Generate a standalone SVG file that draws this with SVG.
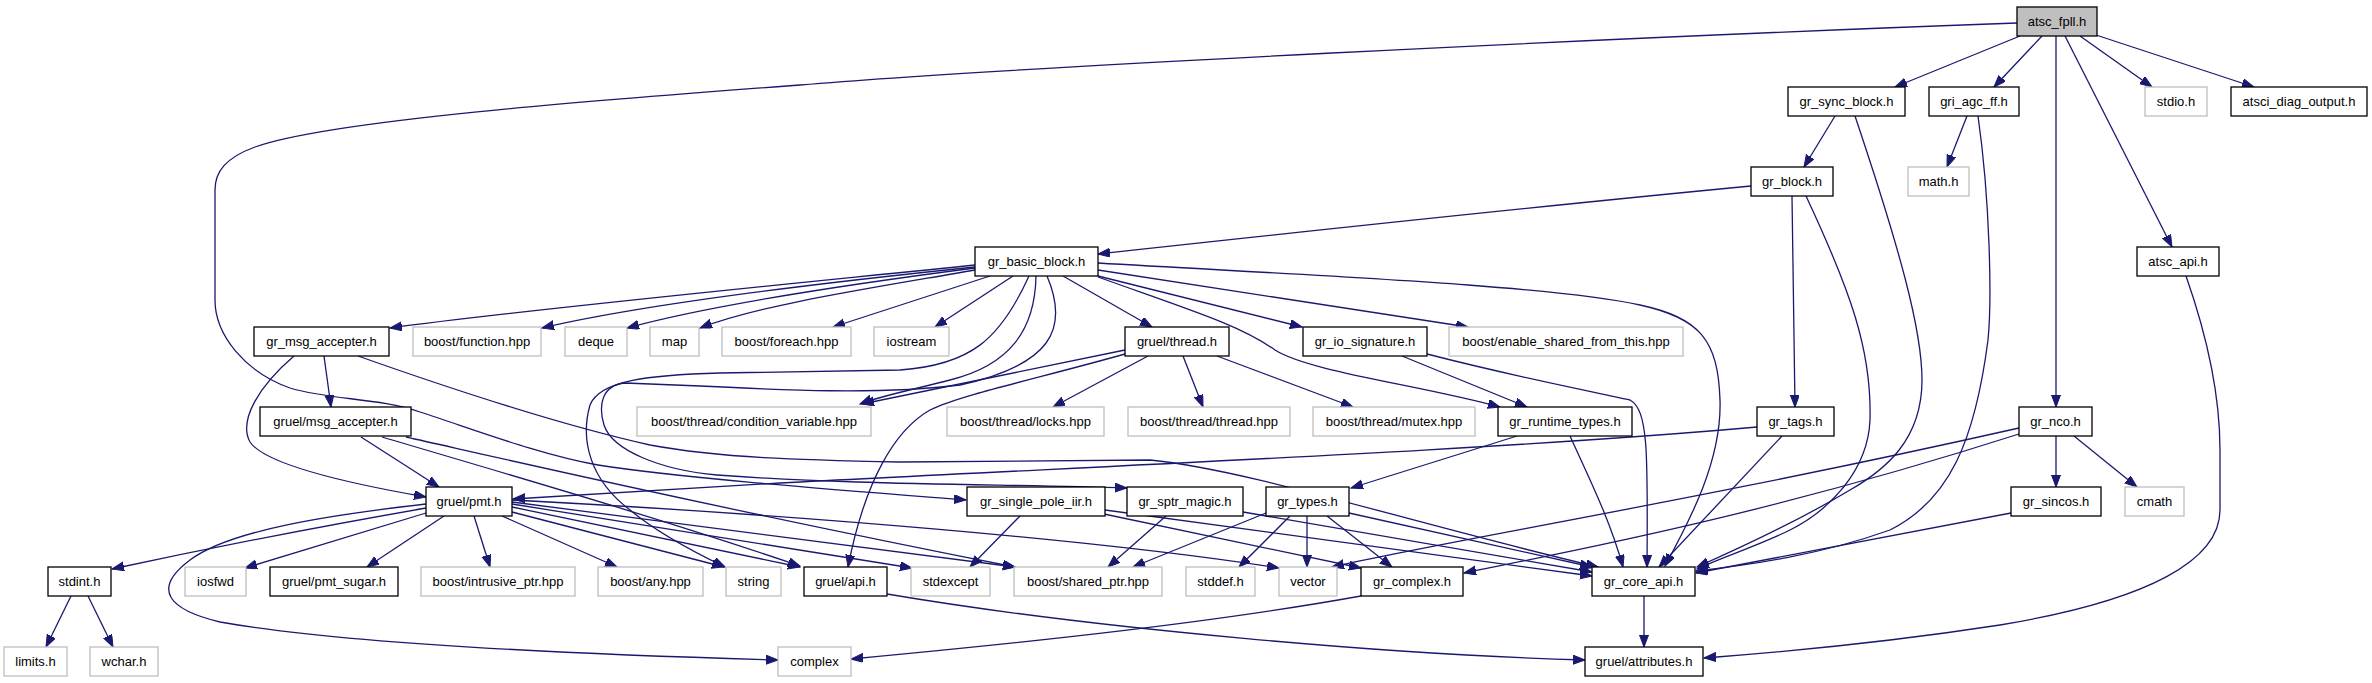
<svg xmlns="http://www.w3.org/2000/svg" width="2372" height="683" viewBox="0 0 2372 683">
<style>
.n rect{fill:#fff;stroke:#000;stroke-width:1.3}
.n.x rect{stroke:#bfbfbf}
.n.r rect{fill:#bfbfbf}
.n text{font-family:"Liberation Sans",Arial,sans-serif;font-size:13px;text-anchor:middle;fill:#000}
#edges path{fill:none;stroke:#191970;stroke-width:1.3;marker-end:url(#a)}
</style>
<defs>
<marker id="a" markerUnits="userSpaceOnUse" markerWidth="14" markerHeight="10" refX="12" refY="4.5" orient="auto" viewBox="0 0 14 10">
<path d="M0,0 L12,4.5 L0,9 z" fill="#191970" stroke="#191970" stroke-width="1"/>
</marker>
</defs>
<rect width="2372" height="683" fill="#fff"/>
<g id="edges">
<path d="M2020,36 L1895,87"/>
<path d="M2042,36 L1994,87"/>
<path d="M2056,36 L2056,407"/>
<path d="M2065,36 L2172,247"/>
<path d="M2080,36 L2152,87"/>
<path d="M2096,35 L2254,87"/>
<path d="M2017,23 C1600,38 1000,68 800,85 C600,100 330,120 255,147 C225,158 215,172 215,190 L215,300 C215,335 245,372 290,388 C330,400 380,398 420,412 C470,428 540,455 598,465 C680,478 840,490 966,500"/>
<path d="M1835,116 L1804,167"/>
<path d="M1855,116 C1900,250 1922,330 1922,380 C1922,440 1885,470 1850,490 C1800,520 1740,548 1697,567"/>
<path d="M1967,116 L1947,167"/>
<path d="M1978,116 C1990,200 1992,300 1988,340 C1975,440 1950,500 1890,530 C1820,555 1750,565 1696,571"/>
<path d="M1751,186 C1500,210 1300,232 1098,254"/>
<path d="M1792,196 L1795,407"/>
<path d="M1806,196 C1850,290 1872,350 1870,420 C1868,470 1830,510 1790,530 C1760,545 1720,558 1697,569"/>
<path d="M975,265 C800,283 520,310 390,328"/>
<path d="M975,267 C800,285 640,305 542,328"/>
<path d="M975,268 C820,288 700,308 627,328"/>
<path d="M975,270 C860,290 760,305 700,328"/>
<path d="M990,276 L833,327"/>
<path d="M1013,276 L935,327"/>
<path d="M1063,276 L1152,327"/>
<path d="M1098,276 L1302,327"/>
<path d="M1098,270 L1468,327"/>
<path d="M1098,277 C1190,310 1240,325 1275,350 C1310,372 1420,385 1500,407"/>
<path d="M1098,263 C1300,275 1550,285 1640,305 C1700,318 1718,340 1720,400 C1722,460 1690,520 1665,566"/>
<path d="M1036,276 C1035,330 1010,365 950,380 C920,388 880,396 860,404"/>
<path d="M1029,276 C1000,340 970,365 900,370 L720,373 C650,375 600,380 590,405 C580,440 590,480 630,510 C660,535 700,555 725,567"/>
<path d="M1047,276 C1070,330 1050,365 960,385 C880,395 780,390 700,386 L625,383 C602,385 598,405 604,425 C612,450 660,470 717,475 C850,485 1000,484 1127,488"/>
<path d="M1125,350 L862,404"/>
<path d="M1148,356 L1053,407"/>
<path d="M1183,356 L1203,407"/>
<path d="M1217,356 L1353,407"/>
<path d="M1125,354 C1040,378 960,395 930,410 C895,430 865,480 848,567"/>
<path d="M1402,356 L1527,407"/>
<path d="M1427,354 C1520,378 1600,393 1630,400 C1648,410 1648,450 1647,567"/>
<path d="M1517,436 L1351,488"/>
<path d="M1570,436 C1590,480 1610,520 1623,567"/>
<path d="M1757,427 C1500,450 1100,466 780,483 L513,499"/>
<path d="M1782,436 L1659,567"/>
<path d="M2056,436 L2056,487"/>
<path d="M2074,436 L2137,487"/>
<path d="M2019,428 C1700,500 1450,540 1332,567"/>
<path d="M2019,434 C1750,520 1550,555 1464,573"/>
<path d="M2011,513 L1696,573"/>
<path d="M2186,276 C2205,330 2220,390 2220,450 L2220,510 C2220,560 2150,600 2000,625 C1850,648 1740,655 1704,658"/>
<path d="M1644,596 L1644,647"/>
<path d="M887,594 C1100,630 1400,655 1585,660"/>
<path d="M1361,596 C1200,625 1000,645 851,659"/>
<path d="M1266,513 L1133,567"/>
<path d="M1290,516 L1239,567"/>
<path d="M1307,516 L1307,567"/>
<path d="M1327,516 L1392,567"/>
<path d="M1349,513 L1592,567"/>
<path d="M1166,516 L1108,567"/>
<path d="M1243,512 L1592,572"/>
<path d="M1020,516 L970,567"/>
<path d="M1104,514 L1361,568"/>
<path d="M1105,510 L1592,576"/>
<path d="M426,508 C300,530 200,550 112,569"/>
<path d="M426,513 L245,568"/>
<path d="M444,516 L367,567"/>
<path d="M474,516 L490,567"/>
<path d="M502,516 L617,567"/>
<path d="M512,512 L724,567"/>
<path d="M512,507 L800,567"/>
<path d="M512,504 L912,568"/>
<path d="M512,502 L1015,567"/>
<path d="M512,500 C800,515 1100,540 1279,568"/>
<path d="M426,504 C330,515 230,530 190,560 C150,590 170,610 220,622 C350,645 600,655 778,660"/>
<path d="M361,437 L439,487"/>
<path d="M382,437 C500,472 650,515 800,566"/>
<path d="M406,437 C500,458 700,505 1015,567"/>
<path d="M294,356 C260,385 238,420 250,442 C265,464 340,482 426,497"/>
<path d="M324,356 L331,407"/>
<path d="M358,356 C440,385 560,425 650,445 C720,458 800,460 900,462 L1150,460 C1250,470 1400,520 1598,567"/>
<path d="M71,596 L46,647"/>
<path d="M88,596 L113,647"/>
</g>
<g id="n_atsc_fpll" class="n r"><rect x="2017" y="7" width="80" height="29"/><text x="2057" y="26">atsc_fpll.h</text></g>
<g id="n_gr_sync_block" class="n"><rect x="1788" y="87" width="117" height="29"/><text x="1846.5" y="106">gr_sync_block.h</text></g>
<g id="n_gri_agc_ff" class="n"><rect x="1929" y="87" width="90" height="29"/><text x="1974" y="106">gri_agc_ff.h</text></g>
<g id="n_stdio" class="n x"><rect x="2145" y="87" width="62" height="29"/><text x="2176" y="106">stdio.h</text></g>
<g id="n_atsci_diag_output" class="n"><rect x="2231" y="87" width="136" height="29"/><text x="2299" y="106">atsci_diag_output.h</text></g>
<g id="n_gr_block" class="n"><rect x="1751" y="167" width="82" height="29"/><text x="1792" y="186">gr_block.h</text></g>
<g id="n_math" class="n x"><rect x="1908" y="167" width="61" height="29"/><text x="1938.5" y="186">math.h</text></g>
<g id="n_gr_basic_block" class="n"><rect x="975" y="247" width="123" height="29"/><text x="1036.5" y="266">gr_basic_block.h</text></g>
<g id="n_atsc_api" class="n"><rect x="2137" y="247" width="82" height="29"/><text x="2178" y="266">atsc_api.h</text></g>
<g id="n_gr_msg_accepter" class="n"><rect x="254" y="327" width="135" height="29"/><text x="321.5" y="346">gr_msg_accepter.h</text></g>
<g id="n_boost_function" class="n x"><rect x="413" y="327" width="128" height="29"/><text x="477" y="346">boost/function.hpp</text></g>
<g id="n_deque" class="n x"><rect x="565" y="327" width="62" height="29"/><text x="596" y="346">deque</text></g>
<g id="n_map" class="n x"><rect x="650" y="327" width="49" height="29"/><text x="674.5" y="346">map</text></g>
<g id="n_boost_foreach" class="n x"><rect x="722" y="327" width="129" height="29"/><text x="786.5" y="346">boost/foreach.hpp</text></g>
<g id="n_iostream" class="n x"><rect x="874" y="327" width="75" height="29"/><text x="911.5" y="346">iostream</text></g>
<g id="n_gruel_thread" class="n"><rect x="1125" y="327" width="104" height="29"/><text x="1177" y="346">gruel/thread.h</text></g>
<g id="n_gr_io_signature" class="n"><rect x="1303" y="327" width="124" height="29"/><text x="1365" y="346">gr_io_signature.h</text></g>
<g id="n_boost_enable_shared" class="n x"><rect x="1449" y="327" width="234" height="29"/><text x="1566" y="346">boost/enable_shared_from_this.hpp</text></g>
<g id="n_gruel_msg_accepter" class="n"><rect x="260" y="407" width="151" height="29"/><text x="335.5" y="426">gruel/msg_accepter.h</text></g>
<g id="n_cond_var" class="n x"><rect x="637" y="407" width="234" height="29"/><text x="754" y="426">boost/thread/condition_variable.hpp</text></g>
<g id="n_locks" class="n x"><rect x="947" y="407" width="157" height="29"/><text x="1025.5" y="426">boost/thread/locks.hpp</text></g>
<g id="n_thread_hpp" class="n x"><rect x="1128" y="407" width="162" height="29"/><text x="1209" y="426">boost/thread/thread.hpp</text></g>
<g id="n_mutex" class="n x"><rect x="1313" y="407" width="162" height="29"/><text x="1394" y="426">boost/thread/mutex.hpp</text></g>
<g id="n_gr_runtime_types" class="n"><rect x="1498" y="407" width="134" height="29"/><text x="1565" y="426">gr_runtime_types.h</text></g>
<g id="n_gr_tags" class="n"><rect x="1757" y="407" width="77" height="29"/><text x="1795.5" y="426">gr_tags.h</text></g>
<g id="n_gr_nco" class="n"><rect x="2019" y="407" width="73" height="29"/><text x="2055.5" y="426">gr_nco.h</text></g>
<g id="n_gruel_pmt" class="n"><rect x="426" y="487" width="86" height="29"/><text x="469" y="506">gruel/pmt.h</text></g>
<g id="n_gr_single_pole_iir" class="n"><rect x="967" y="487" width="138" height="29"/><text x="1036" y="506">gr_single_pole_iir.h</text></g>
<g id="n_gr_sptr_magic" class="n"><rect x="1127" y="487" width="116" height="29"/><text x="1185" y="506">gr_sptr_magic.h</text></g>
<g id="n_gr_types" class="n"><rect x="1266" y="487" width="83" height="29"/><text x="1307.5" y="506">gr_types.h</text></g>
<g id="n_gr_sincos" class="n"><rect x="2011" y="487" width="90" height="29"/><text x="2056" y="506">gr_sincos.h</text></g>
<g id="n_cmath" class="n x"><rect x="2125" y="487" width="59" height="29"/><text x="2154.5" y="506">cmath</text></g>
<g id="n_stdint" class="n"><rect x="48" y="567" width="63" height="29"/><text x="79.5" y="586">stdint.h</text></g>
<g id="n_iosfwd" class="n x"><rect x="185" y="567" width="61" height="29"/><text x="215.5" y="586">iosfwd</text></g>
<g id="n_pmt_sugar" class="n"><rect x="270" y="567" width="128" height="29"/><text x="334" y="586">gruel/pmt_sugar.h</text></g>
<g id="n_intrusive_ptr" class="n x"><rect x="421" y="567" width="154" height="29"/><text x="498" y="586">boost/intrusive_ptr.hpp</text></g>
<g id="n_boost_any" class="n x"><rect x="598" y="567" width="105" height="29"/><text x="650.5" y="586">boost/any.hpp</text></g>
<g id="n_string" class="n x"><rect x="726" y="567" width="55" height="29"/><text x="753.5" y="586">string</text></g>
<g id="n_gruel_api" class="n"><rect x="804" y="567" width="83" height="29"/><text x="845.5" y="586">gruel/api.h</text></g>
<g id="n_stdexcept" class="n x"><rect x="911" y="567" width="79" height="29"/><text x="950.5" y="586">stdexcept</text></g>
<g id="n_shared_ptr" class="n x"><rect x="1014" y="567" width="148" height="29"/><text x="1088" y="586">boost/shared_ptr.hpp</text></g>
<g id="n_stddef" class="n x"><rect x="1186" y="567" width="69" height="29"/><text x="1220.5" y="586">stddef.h</text></g>
<g id="n_vector" class="n x"><rect x="1279" y="567" width="58" height="29"/><text x="1308" y="586">vector</text></g>
<g id="n_gr_complex" class="n"><rect x="1361" y="567" width="102" height="29"/><text x="1412" y="586">gr_complex.h</text></g>
<g id="n_gr_core_api" class="n"><rect x="1592" y="567" width="103" height="29"/><text x="1643.5" y="586">gr_core_api.h</text></g>
<g id="n_limits" class="n x"><rect x="4" y="647" width="63" height="29"/><text x="35.5" y="666">limits.h</text></g>
<g id="n_wchar" class="n x"><rect x="90" y="647" width="68" height="29"/><text x="124" y="666">wchar.h</text></g>
<g id="n_complex" class="n x"><rect x="778" y="647" width="73" height="29"/><text x="814.5" y="666">complex</text></g>
<g id="n_gruel_attributes" class="n"><rect x="1585" y="647" width="118" height="29"/><text x="1644" y="666">gruel/attributes.h</text></g>
</svg>
